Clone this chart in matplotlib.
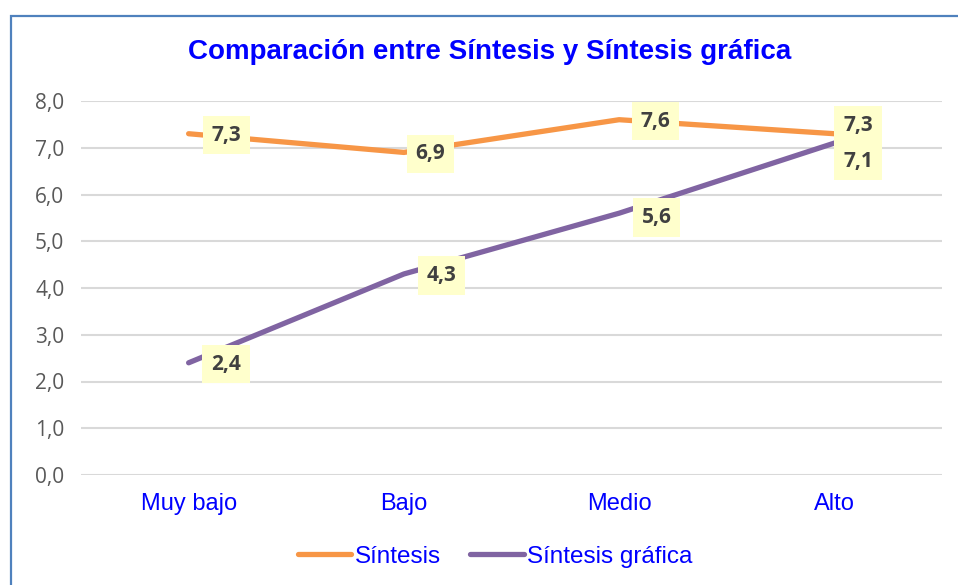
import matplotlib
matplotlib.use("Agg")
import matplotlib.pyplot as plt
from matplotlib.patches import Rectangle

categorias = ["Muy bajo", "Bajo", "Medio", "Alto"]
sintesis = [7.3, 6.9, 7.6, 7.3]
sintesis_grafica = [2.4, 4.3, 5.6, 7.1]
yticks = [0, 1, 2, 3, 4, 5, 6, 7, 8]

NARANJA = "#F79646"
MORADO = "#8064A2"
AZUL = "#0000FF"

fig = plt.figure(figsize=(9.58, 5.85), dpi=100)
ax = fig.add_axes([81 / 958, 1 - 475 / 585, (942 - 81) / 958, (475 - 101) / 585])

# marco del grafico
fig.patches.append(Rectangle((11 / 958, -0.05), 1.2, 1 - 16 / 585 + 0.05,
                             transform=fig.transFigure, fill=False,
                             edgecolor="#4F81BD", lw=1.6))

x = list(range(len(categorias)))
ax.plot(x, sintesis, color=NARANJA, lw=3.8, solid_capstyle="round", label="Síntesis", zorder=3)
ax.plot(x, sintesis_grafica, color=MORADO, lw=3.8, solid_capstyle="round", label="Síntesis gráfica", zorder=3)

ax.set_xlim(-0.5, len(categorias) - 0.5)
ax.set_ylim(0, 8)
ax.set_yticks(yticks)
ax.set_yticklabels([f"{v:.1f}".replace(".", ",") for v in yticks],
                   color="#595959", fontsize=15, fontfamily="Open Sans")
ax.set_xticks(x)
ax.set_xticklabels(categorias, color=AZUL, fontsize=17, fontfamily="Liberation Sans")
ax.tick_params(length=0, pad=12)
ax.tick_params(axis="x", pad=13)
ax.grid(axis="y", color="#D9D9D9", lw=1.5)
ax.set_axisbelow(True)
for s in ax.spines.values():
    s.set_visible(False)

# etiquetas de datos (desplazamiento en puntos)
off_s = [(27, -1), (19, -1), (26, -1), (17, 6)]
off_g = [(27, -1), (27, -1), (27, -3), (17, -13)]
caja = dict(boxstyle="square,pad=0.42", fc="#FFFFCC", ec="none")
for serie, offs in ((sintesis, off_s), (sintesis_grafica, off_g)):
    for xi, v, o in zip(x, serie, offs):
        ax.annotate(f"{v:.1f}".replace(".", ","), (xi, v), xytext=o,
                    textcoords="offset points", ha="center", va="center",
                    fontsize=15, fontweight="bold", color="#404040",
                    fontfamily="Open Sans", bbox=caja, zorder=5)

fig.text(490 / 958, 1 - 52 / 585, "Comparación entre Síntesis y Síntesis gráfica",
         ha="center", va="center", color=AZUL, fontsize=20, fontweight="bold",
         fontfamily="Liberation Sans")

ax.legend(loc="upper center", bbox_to_anchor=(0.481, -0.13), ncol=2, frameon=False,
          prop={"family": "Liberation Sans", "size": 17.5}, labelcolor=AZUL,
          handlelength=2.2, handletextpad=0.15, columnspacing=1.2)

fig.savefig("out.png", dpi=100)
